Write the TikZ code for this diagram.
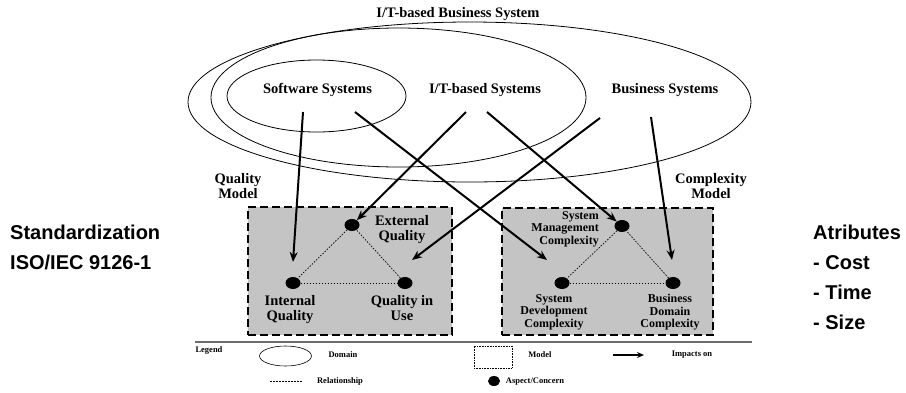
\documentclass[tikz,border=0pt]{standalone}
\usepackage{fontspec}
\setmainfont{Liberation Serif}
\newfontfamily\arialfont{Liberation Sans}
\usetikzlibrary{arrows.meta, positioning, calc, shapes.geometric}
\definecolor{ModelGray}{rgb}{0.77, 0.77, 0.77}
\definecolor{RuleGray}{rgb}{0.42, 0.42, 0.42}

\begin{document}
\begin{tikzpicture}[
    x=1pt, y=-1pt,
    font=\fontsize{14.5}{15}\selectfont\bfseries,
    impact/.style={-{Stealth[length=10pt, width=8pt]}, line width=2pt},
    domainoval/.style={draw, ellipse, inner sep=0pt, line width=0.8pt},
    model/.style={draw, fill=ModelGray, line width=1.8pt, dash pattern=on 8pt off 4pt},
    aspect/.style={ellipse, fill=black, inner sep=0pt, minimum width=15pt, minimum height=12pt},
    rel/.style={line width=0.7pt, dash pattern=on 1.5pt off 1.5pt},
    lbl/.style={align=center, inner sep=0pt},
    cplx/.style={lbl, font=\fontsize{12}{12.5}\selectfont\bfseries},
    side/.style={font=\arialfont\fontsize{20}{30}\selectfont\bfseries, align=left, inner sep=0pt, anchor=north west},
    leg/.style={font=\fontsize{8.5}{9}\selectfont\bfseries, inner sep=0pt},
]
\useasboundingbox (0,0) rectangle (906,392);

% ---- domains ----
\node[domainoval, minimum width=563pt, minimum height=160pt] (bizdom) at (469.5,102) {};
\node[domainoval, minimum width=375pt, minimum height=139pt] (itdom) at (398.5,97.5) {};
\node[domainoval, minimum width=179pt, minimum height=72pt] (swdom) at (316.5,96) {};
\node[lbl] (bizttl) at (458,14) {I/T-based Business System};
\node[lbl] (swttl) at (317.5,90) {Software Systems};
\node[lbl] (itttl) at (485,90) {I/T-based Systems};
\node[lbl] (bsttl) at (665,90) {Business Systems};

% ---- models ----
\node[model, minimum width=204pt, minimum height=128pt] (qmodel) at (350,271) {};
\node[model, minimum width=211pt, minimum height=127pt] (cmodel) at (607.5,271.5) {};
\node[lbl] (qttl) at (238,186.5) {Quality\\Model};
\node[lbl] (cttl) at (711,186.5) {Complexity\\Model};

% aspects
\node[aspect] (eq) at (352,225) {};
\node[aspect] (iq) at (293,283) {};
\node[aspect] (qu) at (405,283) {};
\node[aspect] (smc) at (622,226) {};
\node[aspect] (sdc) at (562,283) {};
\node[aspect] (bdc) at (673,283) {};

\node[lbl] (eqlbl) at (402,230) {External\\Quality};
\node[lbl, below=6pt of iq, xshift=-3pt] (iqlbl) {Internal\\Quality};
\node[lbl, below=6pt of qu, xshift=-3pt] (qulbl) {Quality in\\Use};
\node[cplx, align=right, anchor=east] (smclbl) at (599,229) {System\\Management\\Complexity};
\node[cplx, below=5pt of sdc, xshift=-8pt] (sdclbl) {System\\Development\\Complexity};
\node[cplx, below=5pt of bdc, xshift=-3pt] (bdclbl) {Business\\Domain\\Complexity};

% relationships
\draw[rel] (eq) -- (iq);
\draw[rel] (iq) -- (qu);
\draw[rel] (qu) -- (eq);
\draw[rel] (smc) -- (sdc);
\draw[rel] (sdc) -- (bdc);
\draw[rel] (bdc) -- (smc);

% ---- impacts ----
\coordinate (sw-a) at (303,112);
\coordinate (sw-d) at (355,112);
\coordinate (it-b) at (466,112);
\coordinate (it-e) at (487,112);
\coordinate (bs-c) at (600,118);
\coordinate (bs-f) at (651,117);
\coordinate (iq-in) at ($(iq)+(0,-21)$);
\coordinate (qu-in) at ($(qu)+(7,-23)$);
\coordinate (sdc-in) at ($(sdc)+(-15,-23)$);
\coordinate (bdc-in) at ($(bdc)+(-1,-23)$);
\draw[impact] (sw-a) -- (iq-in);
\draw[impact] (it-b) -- (eq);
\draw[impact] (bs-c) -- (qu-in);
\draw[impact] (sw-d) -- (sdc-in);
\draw[impact] (it-e) -- (smc);
\draw[impact] (bs-f) -- (bdc-in);

% ---- legend ----
\coordinate (rule-l) at (195,342);
\coordinate (rule-r) at (752,342);
\draw[RuleGray, line width=1.8pt] (rule-l) -- (rule-r);
\node[leg] (legttl) at (209,350) {Legend};
\node[domainoval, minimum width=52pt, minimum height=20pt, line width=0.6pt] (legdom) at (285.5,356) {};
\node[leg] (legdomtxt) at (343,355) {Domain};
\node[draw, densely dotted, line width=0.6pt, minimum width=38pt, minimum height=22pt, inner sep=0pt] (legmod) at (493,357) {};
\node[leg] (legmodtxt) at (540,355) {Model};
\coordinate (legimp-a) at (613,355);
\coordinate (legimp-b) at (644,355);
\draw[-{Stealth[length=7pt, width=6pt]}, line width=1.5pt] (legimp-a) -- (legimp-b);
\node[leg] (legimptxt) at (692,355) {Impacts on};
\coordinate (legrel-a) at (270,381);
\coordinate (legrel-b) at (303,381);
\draw[rel] (legrel-a) -- (legrel-b);
\node[leg] (legreltxt) at (340,381) {Relationship};
\node[aspect, minimum width=12pt, minimum height=10pt] (legasp) at (494,381) {};
\node[leg] (legasptxt) at (535,382) {Aspect/Concern};

% ---- side notes ----
\node[side] (stdnote) at (10,225) {Standardization\\ISO/IEC 9126-1};
\node[side] (attrnote) at (813,225) {Atributes\\- Cost\\- Time\\- Size};

\end{tikzpicture}
\end{document}
